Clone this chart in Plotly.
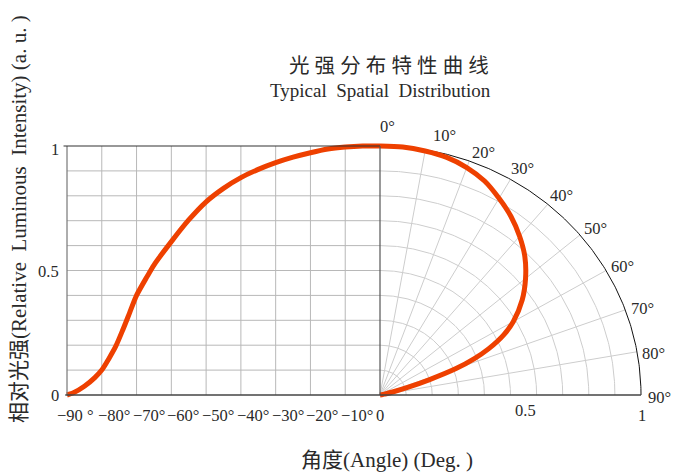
import numpy as np
import plotly.graph_objects as go

# ---------------- data ----------------
LEFT_ANGLES = [-90, -88, -85, -82, -80, -78, -76, -74, -72, -70, -67, -65, -60, -55, -50,
               -45, -40, -35, -30, -25, -20, -15, -10, -5, 0]
LEFT_INTENSITY = [0.0, 0.01, 0.035, 0.07, 0.10, 0.145, 0.195, 0.26, 0.33, 0.40, 0.475,
                  0.522, 0.616, 0.703, 0.776, 0.83, 0.873, 0.906, 0.933, 0.955, 0.973,
                  0.988, 0.996, 1.0, 1.0]

POLAR_ANGLES = [0, 5, 10, 15, 20, 25, 30, 35, 40, 45, 50, 55, 60, 63, 66, 68, 70, 72,
                74, 76, 78, 80, 85, 90]
POLAR_INTENSITY = [1.0, 1.0, 0.995, 0.988, 0.972, 0.948, 0.912, 0.875, 0.832, 0.785,
                   0.728, 0.665, 0.59, 0.532, 0.455, 0.39, 0.31, 0.2, 0.11, 0.05, 0.02,
                   0.01, 0.0, 0.0]

X_TICKS = [-90, -80, -70, -60, -50, -40, -30, -20, -10, 0]
X_TICK_TEXT = ["−90 °", "−80°", "−70°", "−60°", "−50°", "−40°", "−30°", "−20°", "−10°", "0"]
Y_TICKS = [0, 0.1, 0.2, 0.3, 0.4, 0.5, 0.6, 0.7, 0.8, 0.9, 1.0]
Y_LABELS = [0, 0.5, 1]
Y_LABEL_TEXT = ["0", "0.5", "1"]
POLAR_SPOKES = [10, 20, 30, 40, 50, 60, 70, 80]
POLAR_RINGS = [0.1, 0.2, 0.3, 0.4, 0.5, 0.6, 0.7, 0.8, 0.9]
POLAR_ANGLE_LABELS = [0, 10, 20, 30, 40, 50, 60, 70, 80, 90]
R_LABELS = [0.5, 1]
R_LABEL_TEXT = ["0.5", "1"]

TITLE_CN = "光 强 分 布 特 性 曲 线"
TITLE_EN = "Typical  Spatial  Distribution"
Y_TITLE = "相对光强(Relative  Luminous  Intensity) (a. u. )"
X_TITLE = "角度(Angle) (Deg. )"

# ---------------- style ----------------
W, H = 685, 474
FONT = "Liberation Serif, Noto Sans CJK SC, serif"
TXT = "#2a2a2a"
RED = "#ee4000"
GRID_L = "#b8b8b8"
GRID_P = "#cdcdcd"
AX = "#555555"

# pixel geometry
PX_L0, PX_L1 = 67, 380        # x=-90 , x=0
PX_R0, PX_R1 = 380, 641       # r=0 , r=1
PY_0, PY_1 = 395, 146         # y=0 , y=1 (from top)

xr_left = [-92, 1.5]
xr_right = [-0.02, 1.12]
yr = [-0.03, 1.12]

sx = (PX_L1 - PX_L0) / 90.0
sx2 = (PX_R1 - PX_R0) / 1.0
sy = (PY_0 - PY_1) / 1.0

dom_x = [(PX_L0 + (xr_left[0] + 90) * sx) / W, (PX_L1 + xr_left[1] * sx) / W]
dom_x2 = [(PX_R0 + xr_right[0] * sx2) / W, (PX_R0 + xr_right[1] * sx2) / W]
dom_y = [((H - PY_0) + yr[0] * sy) / H, ((H - PY_0) + yr[1] * sy) / H]

fig = go.Figure()

# ---- left rectangular grid (shapes in data coords) ----
shapes = []
for xv in X_TICKS[1:-1]:
    shapes.append(dict(type="line", xref="x", yref="y", x0=xv, x1=xv, y0=0, y1=1,
                       line=dict(color=GRID_L, width=1), layer="below"))
for yv in Y_TICKS[1:-1]:
    shapes.append(dict(type="line", xref="x", yref="y", x0=-90, x1=0, y0=yv, y1=yv,
                       line=dict(color=GRID_L, width=1), layer="below"))
# borders
shapes.append(dict(type="line", xref="x", yref="y", x0=-90, x1=-90, y0=0, y1=1,
                   line=dict(color="#777777", width=1.2)))
shapes.append(dict(type="line", xref="x", yref="y", x0=-91, x1=0, y0=1, y1=1,
                   line=dict(color="#333333", width=1.2)))
shapes.append(dict(type="line", xref="x", yref="y", x0=0, x1=0, y0=0, y1=1,
                   line=dict(color=AX, width=1.2)))
shapes.append(dict(type="line", xref="x", yref="y", x0=-90.5, x1=0, y0=0, y1=0,
                   line=dict(color="#444444", width=1.3)))
shapes.append(dict(type="line", xref="x2", yref="y", x0=0, x1=1, y0=0, y1=0,
                   line=dict(color="#444444", width=1.3)))

# ---- polar grid (traces on x2/y) ----
arc_t = np.radians(np.linspace(0, 90, 181))
for r in POLAR_RINGS:
    fig.add_trace(go.Scatter(x=r * np.sin(arc_t), y=r * np.cos(arc_t), xaxis="x2", yaxis="y",
                             mode="lines", line=dict(color=GRID_P, width=1),
                             hoverinfo="skip", showlegend=False))
for a in POLAR_SPOKES:
    t = np.radians(a)
    fig.add_trace(go.Scatter(x=[0, np.sin(t)], y=[0, np.cos(t)], xaxis="x2", yaxis="y",
                             mode="lines", line=dict(color=GRID_P, width=1),
                             hoverinfo="skip", showlegend=False))
fig.add_trace(go.Scatter(x=np.sin(arc_t), y=np.cos(arc_t), xaxis="x2", yaxis="y",
                         mode="lines", line=dict(color="#111111", width=1),
                         hoverinfo="skip", showlegend=False))

# ---- curves ----
fig.add_trace(go.Scatter(x=LEFT_ANGLES, y=LEFT_INTENSITY, xaxis="x", yaxis="y",
                         mode="lines", line=dict(color=RED, width=5, shape="spline", smoothing=0.7),
                         showlegend=False))
pt = np.radians(np.array(POLAR_ANGLES, dtype=float))
pr = np.array(POLAR_INTENSITY)
fig.add_trace(go.Scatter(x=pr * np.sin(pt), y=pr * np.cos(pt), xaxis="x2", yaxis="y",
                         mode="lines", line=dict(color=RED, width=5, shape="spline", smoothing=0.8),
                         showlegend=False))

# ---- annotations ----
ann = []
tf = dict(family=FONT, size=16.5, color=TXT)
for xv, txt in zip(X_TICKS, X_TICK_TEXT):
    if xv == 0:
        ann.append(dict(x=xv, y=0, xref="x", yref="y", text=txt, showarrow=False,
                        xanchor="center", yanchor="middle", yshift=-21, font=tf))
    else:
        ann.append(dict(x=xv, y=0, xref="x", yref="y", text=txt, showarrow=False,
                        xanchor="left", yanchor="middle", xshift=-12 if xv == -90 else -6,
                        yshift=-21, font=tf))
for yv, txt in zip(Y_LABELS, Y_LABEL_TEXT):
    ann.append(dict(x=-90, y=yv, xref="x", yref="y", text=txt, showarrow=False,
                    xanchor="right", yanchor="middle", xshift=-6,
                    yshift=-4 if yv == 1 else -1, font=tf))
for rv, txt in zip(R_LABELS, R_LABEL_TEXT):
    ann.append(dict(x=rv, y=0, xref="x2", yref="y", text=txt, showarrow=False,
                    xanchor="center", yanchor="middle", xshift=15 if rv == 0.5 else 1,
                    yshift=-16 if rv == 0.5 else -21, font=tf))
RL = 1.062
for a in POLAR_ANGLE_LABELS:
    t = np.radians(a + 1)
    xs = 3 if a == 0 else (12 if a == 10 else (4 if a == 20 else (2 if a == 90 else 0)))
    ys = 4 if a == 0 else (-4 if a == 20 else (2 if a == 90 else 0))
    ann.append(dict(x=RL * np.sin(t), y=RL * np.cos(t), xref="x2", yref="y",
                    text=f"{a}°", showarrow=False, xanchor="center", yanchor="middle",
                    xshift=xs, yshift=ys, font=tf))

ann.append(dict(x=389 / W, y=1 - 66 / H, xref="paper", yref="paper", text=TITLE_CN,
                showarrow=False, xanchor="center", yanchor="middle",
                font=dict(family=FONT, size=20.5, color=TXT)))
ann.append(dict(x=380 / W, y=1 - 90 / H, xref="paper", yref="paper", text=TITLE_EN,
                showarrow=False, xanchor="center", yanchor="middle",
                font=dict(family=FONT, size=19, color=TXT)))
ann.append(dict(x=19 / W, y=1 - 219 / H, xref="paper", yref="paper", text=Y_TITLE,
                showarrow=False, xanchor="center", yanchor="middle", textangle=-90,
                font=dict(family=FONT, size=21, color=TXT)))
ann.append(dict(x=387 / W, y=1 - 460 / H, xref="paper", yref="paper", text=X_TITLE,
                showarrow=False, xanchor="center", yanchor="middle",
                font=dict(family=FONT, size=21, color=TXT)))

fig.update_layout(
    width=W, height=H,
    margin=dict(l=0, r=0, t=0, b=0),
    paper_bgcolor="white", plot_bgcolor="rgba(0,0,0,0)",
    xaxis=dict(domain=dom_x, range=xr_left, visible=False, fixedrange=True),
    xaxis2=dict(domain=dom_x2, range=xr_right, visible=False, anchor="y", fixedrange=True),
    yaxis=dict(domain=dom_y, range=yr, visible=False, fixedrange=True),
    shapes=shapes,
    annotations=ann,
    showlegend=False,
)

fig.write_html("out.html", config={"displayModeBar": False},
               post_script="document.body.style.margin='0';document.body.style.padding='0';")
